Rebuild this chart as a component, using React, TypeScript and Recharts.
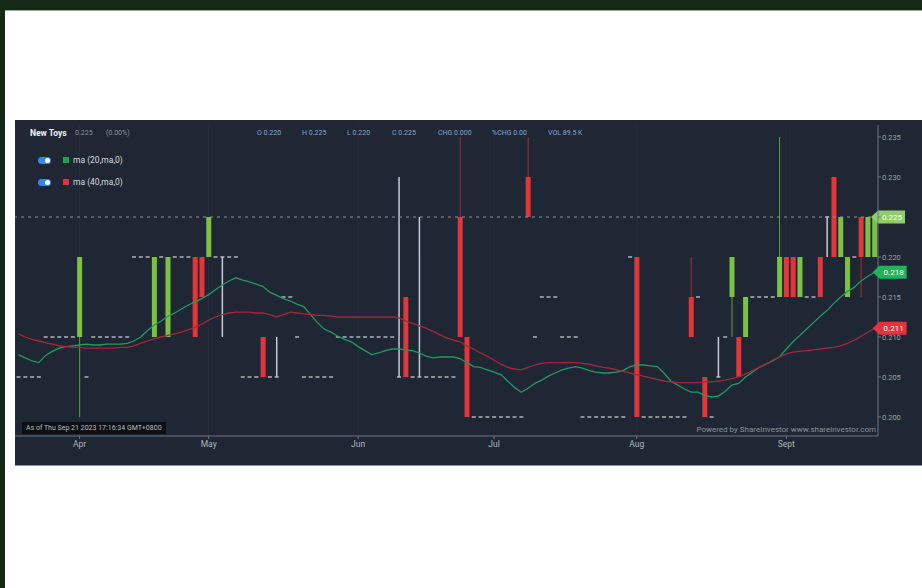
import {
  ComposedChart,
  Bar,
  Line,
  XAxis,
  YAxis,
  CartesianGrid,
  ReferenceLine,
  ReferenceDot,
} from 'recharts';

// trading days, Mar 21 -> Sep 21 2023
const DATES = [
  '03-21', '03-22', '03-23', '03-24', '03-27', '03-28', '03-29', '03-30', '03-31',
  '04-03', '04-04', '04-05', '04-06', '04-10', '04-11', '04-12', '04-13', '04-14', '04-17', '04-18',
  '04-19', '04-20', '04-21', '04-24', '04-25', '04-26', '04-27', '04-28',
  '05-02', '05-03', '05-04', '05-05', '05-08', '05-09', '05-10', '05-11', '05-12', '05-15', '05-16',
  '05-17', '05-18', '05-19', '05-22', '05-23', '05-24', '05-25', '05-26', '05-29', '05-30', '05-31',
  '06-01', '06-05', '06-06', '06-07', '06-08', '06-09', '06-12', '06-13', '06-14', '06-15', '06-16',
  '06-19', '06-20', '06-21', '06-22', '06-23', '06-26', '06-27', '06-28', '06-30',
  '07-03', '07-04', '07-05', '07-06', '07-07', '07-10', '07-11', '07-12', '07-13', '07-14', '07-17',
  '07-18', '07-19', '07-20', '07-21', '07-24', '07-25', '07-26', '07-27', '07-28', '07-31',
  '08-01', '08-02', '08-03', '08-04', '08-07', '08-08', '08-10', '08-11', '08-14', '08-15', '08-16',
  '08-17', '08-18', '08-21', '08-22', '08-23', '08-24', '08-25', '08-28', '08-29', '08-30', '08-31',
  '09-04', '09-05', '09-06', '09-07', '09-08', '09-11', '09-12', '09-13', '09-14', '09-15', '09-18',
  '09-19', '09-20', '09-21',
];

const OPEN = [
  0.205, 0.205, 0.205, 0.205, 0.21, 0.21, 0.21, 0.21, 0.21, 0.21,
  0.205, 0.21, 0.21, 0.21, 0.21, 0.21, 0.21, 0.22, 0.22, 0.22,
  0.21, 0.22, 0.21, 0.22, 0.22, 0.22, 0.22, 0.22, 0.22, 0.22,
  0.22, 0.22, 0.22, 0.205, 0.205, 0.205, 0.21, 0.205, 0.205, 0.215,
  0.215, 0.21, 0.205, 0.205, 0.205, 0.205, 0.205, 0.21, 0.21, 0.21,
  0.21, 0.21, 0.21, 0.21, 0.21, 0.21, 0.205, 0.215, 0.205, 0.205,
  0.205, 0.205, 0.205, 0.205, 0.205, 0.225, 0.21, 0.2, 0.2, 0.2,
  0.2, 0.2, 0.2, 0.2, 0.2, 0.23, 0.21, 0.215, 0.215, 0.215,
  0.21, 0.21, 0.21, 0.2, 0.2, 0.2, 0.2, 0.2, 0.2, 0.2,
  0.22, 0.22, 0.2, 0.2, 0.2, 0.2, 0.2, 0.2, 0.2, 0.215,
  0.215, 0.205, 0.2, 0.205, 0.21, 0.215, 0.21, 0.21, 0.215, 0.215,
  0.215, 0.215, 0.215, 0.22, 0.22, 0.215, 0.215, 0.215, 0.22, 0.225,
  0.23, 0.22, 0.215, 0.22, 0.225, 0.22, 0.22,
];

const HIGH = [
  0.205, 0.205, 0.205, 0.205, 0.21, 0.21, 0.21, 0.21, 0.21, 0.22,
  0.205, 0.21, 0.21, 0.21, 0.21, 0.21, 0.21, 0.22, 0.22, 0.22,
  0.22, 0.22, 0.22, 0.22, 0.22, 0.22, 0.22, 0.22, 0.225, 0.22,
  0.22, 0.22, 0.22, 0.205, 0.205, 0.205, 0.21, 0.205, 0.21, 0.215,
  0.215, 0.21, 0.205, 0.205, 0.205, 0.205, 0.205, 0.21, 0.21, 0.21,
  0.21, 0.21, 0.21, 0.21, 0.21, 0.21, 0.23, 0.215, 0.205, 0.225,
  0.205, 0.205, 0.205, 0.205, 0.205, 0.235, 0.21, 0.2, 0.2, 0.2,
  0.2, 0.2, 0.2, 0.2, 0.2, 0.235, 0.21, 0.215, 0.215, 0.215,
  0.21, 0.21, 0.21, 0.2, 0.2, 0.2, 0.2, 0.2, 0.2, 0.2,
  0.22, 0.22, 0.2, 0.2, 0.2, 0.2, 0.2, 0.2, 0.2, 0.22,
  0.215, 0.205, 0.2, 0.21, 0.21, 0.22, 0.21, 0.215, 0.215, 0.215,
  0.215, 0.215, 0.235, 0.22, 0.22, 0.22, 0.215, 0.215, 0.22, 0.225,
  0.23, 0.225, 0.22, 0.22, 0.225, 0.225, 0.225,
];

const LOW = [
  0.205, 0.205, 0.205, 0.205, 0.21, 0.21, 0.21, 0.21, 0.21, 0.2,
  0.205, 0.21, 0.21, 0.21, 0.21, 0.21, 0.21, 0.22, 0.22, 0.22,
  0.21, 0.22, 0.21, 0.22, 0.22, 0.22, 0.21, 0.215, 0.22, 0.22,
  0.21, 0.22, 0.22, 0.205, 0.205, 0.205, 0.205, 0.205, 0.205, 0.215,
  0.215, 0.21, 0.205, 0.205, 0.205, 0.205, 0.205, 0.21, 0.21, 0.21,
  0.21, 0.21, 0.21, 0.21, 0.21, 0.21, 0.205, 0.205, 0.205, 0.205,
  0.205, 0.205, 0.205, 0.205, 0.205, 0.21, 0.2, 0.2, 0.2, 0.2,
  0.2, 0.2, 0.2, 0.2, 0.2, 0.225, 0.21, 0.215, 0.215, 0.215,
  0.21, 0.21, 0.21, 0.2, 0.2, 0.2, 0.2, 0.2, 0.2, 0.2,
  0.22, 0.2, 0.2, 0.2, 0.2, 0.2, 0.2, 0.2, 0.2, 0.21,
  0.215, 0.2, 0.2, 0.205, 0.21, 0.21, 0.205, 0.21, 0.215, 0.215,
  0.215, 0.215, 0.215, 0.215, 0.215, 0.215, 0.215, 0.215, 0.215, 0.22,
  0.22, 0.22, 0.215, 0.22, 0.215, 0.22, 0.22,
];

const CLOSE = [
  0.205, 0.205, 0.205, 0.205, 0.21, 0.21, 0.21, 0.21, 0.21, 0.22,
  0.205, 0.21, 0.21, 0.21, 0.21, 0.21, 0.21, 0.22, 0.22, 0.22,
  0.22, 0.22, 0.22, 0.22, 0.22, 0.22, 0.21, 0.215, 0.225, 0.22,
  0.22, 0.22, 0.22, 0.205, 0.205, 0.205, 0.205, 0.205, 0.205, 0.215,
  0.215, 0.21, 0.205, 0.205, 0.205, 0.205, 0.205, 0.21, 0.21, 0.21,
  0.21, 0.21, 0.21, 0.21, 0.21, 0.21, 0.205, 0.205, 0.205, 0.205,
  0.205, 0.205, 0.205, 0.205, 0.205, 0.21, 0.2, 0.2, 0.2, 0.2,
  0.2, 0.2, 0.2, 0.2, 0.2, 0.225, 0.21, 0.215, 0.215, 0.215,
  0.21, 0.21, 0.21, 0.2, 0.2, 0.2, 0.2, 0.2, 0.2, 0.2,
  0.22, 0.2, 0.2, 0.2, 0.2, 0.2, 0.2, 0.2, 0.2, 0.21,
  0.215, 0.2, 0.2, 0.205, 0.21, 0.22, 0.205, 0.215, 0.215, 0.215,
  0.215, 0.215, 0.22, 0.215, 0.215, 0.22, 0.215, 0.215, 0.215, 0.225,
  0.22, 0.225, 0.22, 0.22, 0.22, 0.225, 0.225,
];

const MA20 = [
  0.2078, 0.2074, 0.207, 0.2068, 0.2077, 0.2082, 0.2086, 0.2088, 0.2089, 0.209,
  0.2091, 0.209, 0.209, 0.2091, 0.2091, 0.2091, 0.2092, 0.2095, 0.21, 0.2108,
  0.2115, 0.212, 0.2126, 0.213, 0.2135, 0.214, 0.2144, 0.2148, 0.2153, 0.2159,
  0.2165, 0.217, 0.2174, 0.2171, 0.2169, 0.2166, 0.2163, 0.2156, 0.2152, 0.2148,
  0.2145, 0.2141, 0.2138, 0.2128, 0.2118, 0.211, 0.2106, 0.2101, 0.2097, 0.2094,
  0.2088, 0.2083, 0.2078, 0.208, 0.2083, 0.2085, 0.2085, 0.2084, 0.2083, 0.208,
  0.2076, 0.2074, 0.2075, 0.2075, 0.2075, 0.2073, 0.2068, 0.2063, 0.2062, 0.2059,
  0.2056, 0.2053, 0.2045, 0.2037, 0.2031, 0.2036, 0.2042, 0.2046, 0.2051, 0.2055,
  0.2059, 0.2061, 0.2063, 0.2061, 0.2058, 0.2056, 0.2055, 0.2055, 0.2056, 0.2058,
  0.2063, 0.2065, 0.2065, 0.2064, 0.2063, 0.2055, 0.2045, 0.204, 0.2035, 0.2031,
  0.2031, 0.2027, 0.2025, 0.2026, 0.2032, 0.204, 0.2042, 0.205, 0.2056, 0.2062,
  0.2066, 0.207, 0.2075, 0.2085, 0.2094, 0.2102, 0.211, 0.2118, 0.2126, 0.2133,
  0.2142, 0.215, 0.2157, 0.2162, 0.217, 0.2176, 0.2181,
];

const MA40 = [
  0.2104, 0.21, 0.2097, 0.2095, 0.2093, 0.2091, 0.2089, 0.2088, 0.2087, 0.2087,
  0.2086, 0.2086, 0.2086, 0.2086, 0.2086, 0.2087, 0.2087, 0.2089, 0.2092, 0.2095,
  0.2098, 0.21, 0.2102, 0.2104, 0.2106, 0.2109, 0.2112, 0.2116, 0.2121, 0.2125,
  0.2128, 0.213, 0.2131, 0.2131, 0.2131, 0.213, 0.213, 0.2128, 0.2125, 0.2128,
  0.2131, 0.213, 0.2129, 0.2128, 0.2127, 0.2127, 0.2126, 0.2125, 0.2125, 0.2125,
  0.2125, 0.2125, 0.2125, 0.2125, 0.2125, 0.2125, 0.2124, 0.212, 0.2117, 0.2114,
  0.2111, 0.2107, 0.2103, 0.2099, 0.2096, 0.2094, 0.2089, 0.2085, 0.208, 0.2076,
  0.2071, 0.2066, 0.2062, 0.206, 0.2059, 0.2062, 0.2065, 0.2067, 0.2068, 0.2068,
  0.2068, 0.2068, 0.2068, 0.2067, 0.2066, 0.2064, 0.2062, 0.2061, 0.2059, 0.2057,
  0.2055, 0.2053, 0.2051, 0.2049, 0.2047, 0.2045, 0.2044, 0.2043, 0.2043, 0.2043,
  0.2043, 0.2044, 0.2044, 0.2045, 0.2046, 0.2048, 0.205, 0.2054, 0.2058, 0.2062,
  0.2066, 0.2071, 0.2075, 0.2079, 0.2081, 0.2082, 0.2083, 0.2084, 0.2085, 0.2086,
  0.2087, 0.2089, 0.2092, 0.2096, 0.2101, 0.2106, 0.2111,
];

const MONTH_TICKS = ['04-03', '05-02', '06-01', '07-03', '08-01', '09-04'];
const MONTH_LABELS = ['Apr', 'May', 'Jun', 'Jul', 'Aug', 'Sept'];
const PRICE_TICKS = [0.2, 0.205, 0.21, 0.215, 0.22, 0.225, 0.23, 0.235];
const LAST_PRICE = 0.225;

const UP = '#7cc143';
const DOWN = '#e2363b';
const FLAT = '#c6cbd2';
const MA20_COLOR = '#1f9a63';
const MA40_COLOR = '#a3283c';
const PANEL_BG = '#1e2733';
const FONT = 'Roboto, "DejaVu Sans", sans-serif';

const data = DATES.map((date, i) => ({
  date,
  open: OPEN[i],
  high: HIGH[i],
  low: LOW[i],
  close: CLOSE[i],
  range: [LOW[i], HIGH[i]],
  ma20: MA20[i],
  ma40: MA40[i],
}));

function Candle(props: any) {
  const { x, y, width, height, payload } = props;
  if (!payload || x == null || y == null) return null;
  const { open, close, high, low } = payload;
  const top = Math.min(y, y + (height || 0));
  const h = Math.abs(height || 0);
  const py = (v: number) => (high === low || h === 0 ? top : top + ((high - v) / (high - low)) * h);
  const cx = x + width / 2;
  const up = close > open;
  const down = close < open;
  const color = up ? UP : down ? DOWN : FLAT;
  const wick = up ? '#5f9e3c' : down ? '#a32c38' : FLAT;
  const bTop = py(Math.max(open, close));
  const bBot = py(Math.min(open, close));
  return (
    <g>
      {high !== low && (
        <line x1={cx} x2={cx} y1={top} y2={top + h} stroke={wick} strokeWidth={open === close ? 1.5 : 1} />
      )}
      {open === close ? (
        <line x1={x + 0.5} x2={x + width - 0.5} y1={bTop} y2={bTop} stroke={FLAT} strokeWidth={1.3} />
      ) : (
        <rect x={x} y={bTop} width={width} height={Math.max(1, bBot - bTop)} fill={color} />
      )}
    </g>
  );
}

function Tag({ tipX, cy, color, text, textColor = '#ffffff' }: any) {
  const hh = 6.5;
  return (
    <g>
      <path
        d={`M${tipX},${cy} L${tipX + 7},${cy - hh} L${tipX + 34},${cy - hh} L${tipX + 34},${cy + hh} L${tipX + 7},${cy + hh} Z`}
        fill={color}
      />
      <text x={tipX + 21} y={cy + 3} textAnchor="middle" fontSize={8} fill={textColor} fontFamily={FONT}>
        {text}
      </text>
    </g>
  );
}

function LegendRow({ color, label }: { color: string; label: string }) {
  return (
    <div style={{ display: 'flex', alignItems: 'center', height: 22 }}>
      <div style={{ width: 13, height: 7, borderRadius: 4, background: '#3b82f6', position: 'relative', marginRight: 12 }}>
        <div style={{ position: 'absolute', right: 1, top: 1, width: 5, height: 5, borderRadius: 3, background: '#fff' }} />
      </div>
      <div style={{ width: 6, height: 6, background: color, marginRight: 4 }} />
      <span style={{ fontSize: 8.5, color: '#d5d9df' }}>{label}</span>
    </div>
  );
}

export default function App() {
  const hdr = { position: 'absolute' as const, top: 9, fontSize: 7, color: '#7fa8d8', whiteSpace: 'nowrap' as const };
  return (
    <div style={{ position: 'fixed', left: 0, top: 0, width: 922, height: 588, background: '#fff', fontFamily: FONT, overflow: 'hidden' }}>
      <div style={{ position: 'absolute', left: 0, top: 0, width: 922, height: 10, background: '#142a16', borderBottom: '1px solid #9aa59a' }} />
      <div style={{ position: 'absolute', left: 0, top: 0, width: 5, height: 588, background: '#142a16' }} />
      <div style={{ position: 'absolute', left: 15, top: 120, width: 907, height: 345, background: PANEL_BG, borderBottom: '1px solid #8a929c' }}>
        <ComposedChart
          width={905}
          height={345}
          data={data}
          margin={{ top: 5, right: 0, bottom: 0, left: 0 }}
          barSize={5}
        >
          <CartesianGrid horizontal={false} stroke="#252f3c" />
          <XAxis
            dataKey="date"
            ticks={MONTH_TICKS}
            tickFormatter={(d: string) => MONTH_LABELS[MONTH_TICKS.indexOf(d)] ?? ''}
            interval={0}
            height={29}
            stroke="#6d7782"
            tickSize={3}
            tick={{ fontSize: 8.5, fill: '#aeb6bf', fontFamily: FONT }}
          />
          <YAxis
            orientation="right"
            width={42}
            domain={[0.197625, 0.2365]}
            allowDataOverflow
            ticks={PRICE_TICKS}
            // the last-price tag sits on top of this label in the original
            tickFormatter={(v: number) => (v === LAST_PRICE ? '' : v.toFixed(3))}
            stroke="#6d7782"
            tickSize={3}
            tickMargin={1}
            tick={{ fontSize: 7.5, fill: '#9aa3ad', fontFamily: FONT }}
          />
          <ReferenceLine
            y={LAST_PRICE}
            stroke="#8b939c"
            strokeDasharray="3 4"
            ifOverflow="visible"
            label={(p: any) => (
              <Tag tipX={p.viewBox.x + p.viewBox.width - 7} cy={p.viewBox.y} color="#8ccf6a" text={LAST_PRICE.toFixed(3)} />
            )}
          />
          <Bar dataKey="range" shape={<Candle />} isAnimationActive={false} />
          <Line type="linear" dataKey="ma20" stroke={MA20_COLOR} strokeWidth={1.3} dot={false} isAnimationActive={false} />
          <Line type="linear" dataKey="ma40" stroke={MA40_COLOR} strokeWidth={1.3} dot={false} isAnimationActive={false} />
          <ReferenceDot
            x={DATES[DATES.length - 1]}
            y={MA20[MA20.length - 1]}
            ifOverflow="visible"
            shape={(p: any) => <Tag tipX={p.cx - 2} cy={p.cy} color="#1fb35c" text={MA20[MA20.length - 1].toFixed(3)} />}
          />
          <ReferenceDot
            x={DATES[DATES.length - 1]}
            y={MA40[MA40.length - 1]}
            ifOverflow="visible"
            shape={(p: any) => <Tag tipX={p.cx - 2} cy={p.cy} color="#e9303b" text={MA40[MA40.length - 1].toFixed(3)} />}
          />
        </ComposedChart>

        {/* header */}
        <div style={{ position: 'absolute', left: 15, top: 8, fontSize: 8.5, fontWeight: 700, color: '#f2f4f7' }}>New Toys</div>
        <div style={{ position: 'absolute', left: 60, top: 9, fontSize: 7, color: '#8d96a0' }}>0.225</div>
        <div style={{ position: 'absolute', left: 91, top: 9, fontSize: 7, color: '#8d96a0' }}>(0.00%)</div>
        <div style={{ ...hdr, left: 242 }}>O 0.220</div>
        <div style={{ ...hdr, left: 287 }}>H 0.225</div>
        <div style={{ ...hdr, left: 332 }}>L 0.220</div>
        <div style={{ ...hdr, left: 377 }}>C 0.225</div>
        <div style={{ ...hdr, left: 423 }}>CHG 0.000</div>
        <div style={{ ...hdr, left: 477 }}>%CHG 0.00</div>
        <div style={{ ...hdr, left: 533 }}>VOL 89.5 K</div>

        {/* legend */}
        <div style={{ position: 'absolute', left: 23, top: 29 }}>
          <LegendRow color="#1fa34a" label="ma (20,ma,0)" />
          <LegendRow color="#e0303a" label="ma (40,ma,0)" />
        </div>

        {/* timestamp + credit */}
        <div style={{ position: 'absolute', left: 7, top: 302, height: 12, padding: '0 4px', background: '#0c0f13', fontSize: 7, color: '#b8bec6', lineHeight: '12px', whiteSpace: 'nowrap' }}>
          As of Thu Sep 21 2023 17:16:34 GMT+0800
        </div>
        <div style={{ position: 'absolute', right: 46, top: 305, fontSize: 8, color: '#8a939d', whiteSpace: 'nowrap' }}>
          Powered by ShareInvestor www.shareinvestor.com
        </div>
      </div>
    </div>
  );
}
